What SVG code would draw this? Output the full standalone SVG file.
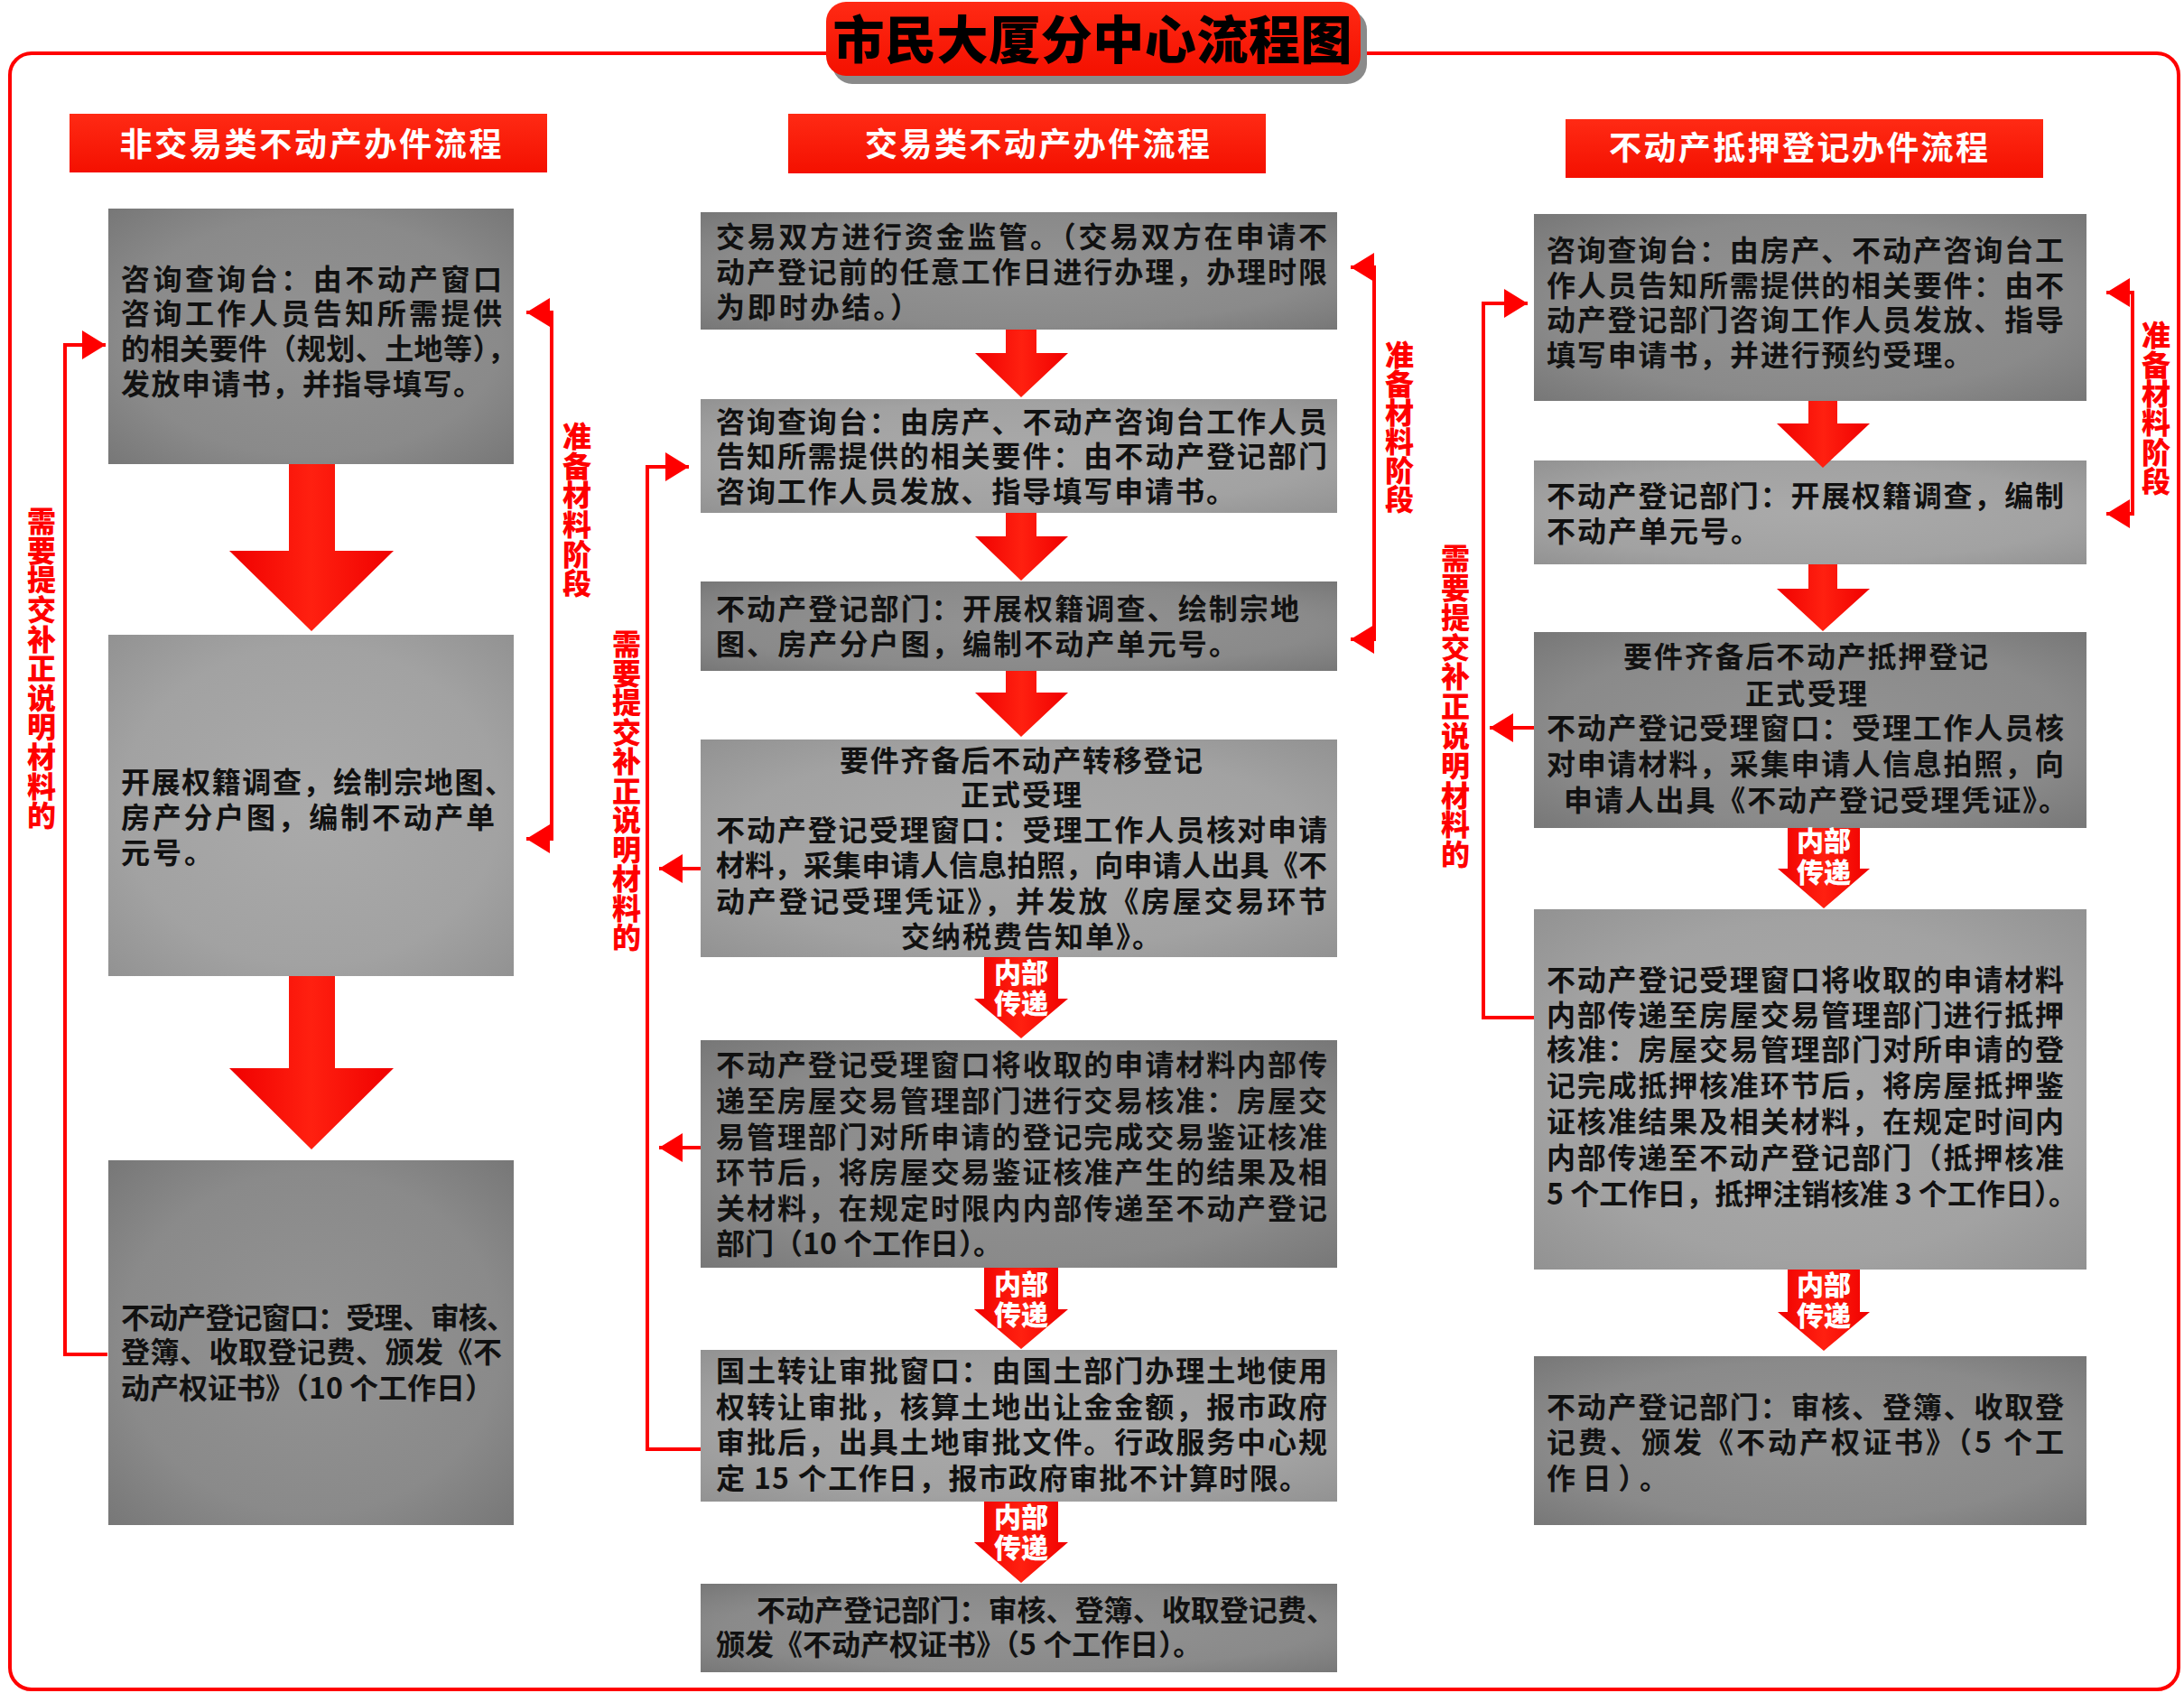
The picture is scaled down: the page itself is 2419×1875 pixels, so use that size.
<svg xmlns="http://www.w3.org/2000/svg" width="2419" height="1875" viewBox="0 0 2419 1875">
<defs>
<style>
.t{font-family:"Noto Sans CJK SC","Noto Sans",sans-serif;font-weight:700;font-size:32px;fill:#111}
.h{font-family:"Noto Sans CJK SC","Noto Sans",sans-serif;font-weight:700;font-size:36px;fill:#fff;text-anchor:middle}
.v{font-family:"Noto Sans CJK SC","Noto Sans",sans-serif;font-weight:900;font-size:32px;fill:#f00;writing-mode:vertical-rl}
.w{font-family:"Noto Sans CJK SC","Noto Sans",sans-serif;font-weight:900;font-size:30px;fill:#fff;text-anchor:middle}
.ln{fill:none;stroke:#f00;stroke-width:4}
.dk{fill:url(#gd)}
.lt{fill:url(#gl)}
.ar{fill:url(#gr)}
.hd{fill:url(#gh)}
</style>
<radialGradient id="gd" cx="50%" cy="50%" r="72%">
<stop offset="0" stop-color="#939393"/><stop offset="0.65" stop-color="#8a8a8a"/><stop offset="1" stop-color="#767676"/>
</radialGradient>
<radialGradient id="gl" cx="50%" cy="50%" r="72%">
<stop offset="0" stop-color="#aaaaaa"/><stop offset="0.65" stop-color="#a2a2a2"/><stop offset="1" stop-color="#919191"/>
</radialGradient>
<linearGradient id="gr" x1="0" y1="0" x2="1" y2="0">
<stop offset="0" stop-color="#f00000"/><stop offset="0.5" stop-color="#ff2010"/><stop offset="1" stop-color="#f00000"/>
</linearGradient>
<linearGradient id="gh" x1="0" y1="0" x2="0" y2="1">
<stop offset="0" stop-color="#ff2a14"/><stop offset="1" stop-color="#f41000"/>
</linearGradient>
<marker id="ah" markerUnits="userSpaceOnUse" markerWidth="28" markerHeight="34" refX="26" refY="16" orient="auto-start-reverse" viewBox="0 0 28 34">
<path d="M0,0 L26,16 L0,32 Z" fill="#f00"/>
</marker>
</defs>

<rect x="11" y="59" width="2402" height="1812" rx="24" fill="none" stroke="#f00" stroke-width="4"/>

<g id="title">
<rect x="922" y="11" width="592" height="82" rx="22" fill="#8a8a8a"/>
<rect x="915" y="2" width="592" height="82" rx="22" fill="url(#gh)"/>
<text x="1210" y="65" textLength="575" style="font-family:'Noto Sans CJK SC','Noto Sans',sans-serif;font-weight:900;font-size:57px;fill:#000;text-anchor:middle">市民大厦分中心流程图</text>
</g>

<g id="header-left">
<rect x="77" y="126" width="529" height="65" class="hd"/>
<text class="h" x="344" y="173" textLength="423">非交易类不动产办件流程</text>
</g>
<g id="header-mid">
<rect x="873" y="126" width="529" height="66" class="hd"/>
<text class="h" x="1149" y="173" textLength="382">交易类不动产办件流程</text>
</g>
<g id="header-right">
<rect x="1734" y="132" width="529" height="65" class="hd"/>
<text class="h" x="1992" y="177" textLength="420">不动产抵押登记办件流程</text>
</g>

<g id="L1">
<rect x="120" y="231" width="449" height="283" class="dk"/>
<text class="t"><tspan x="134" y="321" textLength="422">咨询查询台：由不动产窗口</tspan><tspan x="134" y="359" textLength="422">咨询工作人员告知所需提供</tspan><tspan x="134" y="398" textLength="438">的相关要件（规划、土地等），</tspan><tspan x="134" y="437" textLength="400">发放申请书，并指导填写。</tspan></text>
</g>
<g id="L2">
<rect x="120" y="703" width="449" height="378" class="lt"/>
<text class="t"><tspan x="134" y="878" textLength="435">开展权籍调查，绘制宗地图、</tspan><tspan x="134" y="917" textLength="414">房产分户图，编制不动产单</tspan><tspan x="134" y="956" textLength="102">元号。</tspan></text>
</g>
<g id="L3">
<rect x="120" y="1285" width="449" height="404" class="dk"/>
<text class="t"><tspan x="134" y="1471" textLength="437">不动产登记窗口：受理、审核、</tspan><tspan x="134" y="1509" textLength="422">登簿、收取登记费、颁发《不</tspan><tspan x="134" y="1549">动产权证书》（10 个工作日）</tspan></text>
</g>

<g id="M1">
<rect x="776" y="235" width="705" height="130" class="dk"/>
<text class="t"><tspan x="793" y="274" textLength="677">交易双方进行资金监管。（交易双方在申请不</tspan><tspan x="793" y="313" textLength="677">动产登记前的任意工作日进行办理，办理时限</tspan><tspan x="793" y="352" textLength="225">为即时办结。）</tspan></text>
</g>
<g id="M2">
<rect x="776" y="442" width="705" height="126" class="lt"/>
<text class="t"><tspan x="793" y="479" textLength="677">咨询查询台：由房产、不动产咨询台工作人员</tspan><tspan x="793" y="517" textLength="677">告知所需提供的相关要件：由不动产登记部门</tspan><tspan x="793" y="556" textLength="575">咨询工作人员发放、指导填写申请书。</tspan></text>
</g>
<g id="M3">
<rect x="776" y="644" width="705" height="99" class="dk"/>
<text class="t"><tspan x="793" y="686" textLength="646">不动产登记部门：开展权籍调查、绘制宗地</tspan><tspan x="793" y="725" textLength="578">图、房产分户图，编制不动产单元号。</tspan></text>
</g>
<g id="M4">
<rect x="776" y="819" width="705" height="241" class="lt"/>
<text class="t"><tspan x="930" y="854" textLength="402">要件齐备后不动产转移登记</tspan><tspan x="1064" y="892" textLength="134">正式受理</tspan><tspan x="793" y="931" textLength="677">不动产登记受理窗口：受理工作人员核对申请</tspan><tspan x="793" y="970" textLength="677">材料，采集申请人信息拍照，向申请人出具《不</tspan><tspan x="793" y="1010" textLength="677">动产登记受理凭证》，并发放《房屋交易环节</tspan><tspan x="998" y="1049" textLength="288">交纳税费告知单》。</tspan></text>
</g>
<g id="M5">
<rect x="776" y="1152" width="705" height="252" class="dk"/>
<text class="t"><tspan x="793" y="1191" textLength="677">不动产登记受理窗口将收取的申请材料内部传</tspan><tspan x="793" y="1231" textLength="677">递至房屋交易管理部门进行交易核准：房屋交</tspan><tspan x="793" y="1271" textLength="677">易管理部门对所申请的登记完成交易鉴证核准</tspan><tspan x="793" y="1310" textLength="677">环节后，将房屋交易鉴证核准产生的结果及相</tspan><tspan x="793" y="1350" textLength="677">关材料，在规定时限内内部传递至不动产登记</tspan><tspan x="793" y="1389">部门（10 个工作日）。</tspan></text>
</g>
<g id="M6">
<rect x="776" y="1495" width="705" height="168" class="lt"/>
<text class="t"><tspan x="793" y="1530" textLength="677">国土转让审批窗口：由国土部门办理土地使用</tspan><tspan x="793" y="1570" textLength="677">权转让审批，核算土地出让金金额，报市政府</tspan><tspan x="793" y="1609" textLength="677">审批后，出具土地审批文件。行政服务中心规</tspan><tspan x="793" y="1649" textLength="656">定 15 个工作日，报市政府审批不计算时限。</tspan></text>
</g>
<g id="M7">
<rect x="776" y="1754" width="705" height="98" class="dk"/>
<text class="t"><tspan x="838" y="1795" textLength="641">不动产登记部门：审核、登簿、收取登记费、</tspan><tspan x="793" y="1833">颁发《不动产权证书》（5 个工作日）。</tspan></text>
</g>

<g id="R1">
<rect x="1699" y="237" width="612" height="207" class="dk"/>
<text class="t"><tspan x="1713" y="289" textLength="573">咨询查询台：由房产、不动产咨询台工</tspan><tspan x="1713" y="328" textLength="573">作人员告知所需提供的相关要件：由不</tspan><tspan x="1713" y="366" textLength="573">动产登记部门咨询工作人员发放、指导</tspan><tspan x="1713" y="405" textLength="472">填写申请书，并进行预约受理。</tspan></text>
</g>
<g id="R2">
<rect x="1699" y="510" width="612" height="115" class="lt"/>
<text class="t"><tspan x="1713" y="561" textLength="573">不动产登记部门：开展权籍调查，编制</tspan><tspan x="1713" y="600" textLength="236">不动产单元号。</tspan></text>
</g>
<g id="R3">
<rect x="1699" y="700" width="612" height="217" class="dk"/>
<text class="t"><tspan x="1798" y="739" textLength="404">要件齐备后不动产抵押登记</tspan><tspan x="1933" y="780" textLength="135">正式受理</tspan><tspan x="1713" y="818" textLength="573">不动产登记受理窗口：受理工作人员核</tspan><tspan x="1713" y="858" textLength="573">对申请材料，采集申请人信息拍照，向</tspan><tspan x="1732" y="898" textLength="558">申请人出具《不动产登记受理凭证》。</tspan></text>
</g>
<g id="R4">
<rect x="1699" y="1007" width="612" height="399" class="lt"/>
<text class="t"><tspan x="1713" y="1097" textLength="573">不动产登记受理窗口将收取的申请材料</tspan><tspan x="1713" y="1136" textLength="573">内部传递至房屋交易管理部门进行抵押</tspan><tspan x="1713" y="1174" textLength="573">核准：房屋交易管理部门对所申请的登</tspan><tspan x="1713" y="1214" textLength="573">记完成抵押核准环节后，将房屋抵押鉴</tspan><tspan x="1713" y="1254" textLength="573">证核准结果及相关材料，在规定时间内</tspan><tspan x="1713" y="1294" textLength="573">内部传递至不动产登记部门（抵押核准</tspan><tspan x="1713" y="1334" textLength="588">5 个工作日，抵押注销核准 3 个工作日）。</tspan></text>
</g>
<g id="R5">
<rect x="1699" y="1502" width="612" height="187" class="dk"/>
<text class="t"><tspan x="1713" y="1570" textLength="573">不动产登记部门：审核、登簿、收取登</tspan><tspan x="1713" y="1609" textLength="573">记费、颁发《不动产权证书》（5 个工</tspan><tspan x="1713" y="1649" textLength="135">作日）。</tspan></text>
</g>

<g id="connectors">
<polygon class="ar" points="320,514 371,514 371,610 436,610 345,699 254,610 320,610"/>
<polygon class="ar" points="320,1081 371,1081 371,1183 436,1183 345,1273 254,1183 320,1183"/>
<polygon class="ar" points="1114,365 1148,365 1148,391 1183,391 1131,440 1080,391 1114,391"/>
<polygon class="ar" points="1114,568 1148,568 1148,594 1183,594 1131,643 1080,594 1114,594"/>
<polygon class="ar" points="1114,743 1148,743 1148,767 1183,767 1131,816 1080,767 1114,767"/>
<polygon class="ar" points="2003,444 2035,444 2035,469 2071,469 2019,518 1968,469 2003,469"/>
<polygon class="ar" points="2003,625 2035,625 2035,652 2071,652 2019,699 1968,652 2003,652"/>

<polygon class="ar" points="1090,1060 1172,1060 1172,1106 1183,1106 1131,1150 1079,1106 1090,1106"/>
<polygon class="ar" points="1090,1404 1172,1404 1172,1450 1183,1450 1131,1494 1079,1450 1090,1450"/>
<polygon class="ar" points="1090,1663 1172,1663 1172,1708 1183,1708 1131,1753 1079,1708 1090,1708"/>
<polygon class="ar" points="1980,917 2060,917 2060,962 2071,962 2020,1006 1969,962 1980,962"/>
<polygon class="ar" points="1980,1406 2060,1406 2060,1453 2071,1453 2020,1496 1969,1453 1980,1453"/>
<text class="w"><tspan x="1131" y="1088">内部</tspan><tspan x="1131" y="1122">传递</tspan></text>
<text class="w"><tspan x="1131" y="1433">内部</tspan><tspan x="1131" y="1467">传递</tspan></text>
<text class="w"><tspan x="1131" y="1691">内部</tspan><tspan x="1131" y="1725">传递</tspan></text>
<text class="w"><tspan x="2020" y="942">内部</tspan><tspan x="2020" y="977">传递</tspan></text>
<text class="w"><tspan x="2020" y="1434">内部</tspan><tspan x="2020" y="1468">传递</tspan></text>

<path class="ln" d="M119,1500 H72 V382 H117" marker-end="url(#ah)"/>
<path class="ln" d="M583,346 H611 V929 H583" marker-start="url(#ah)" marker-end="url(#ah)"/>
<path class="ln" d="M776,1605 H717 V517 H763" marker-end="url(#ah)"/>
<path class="ln" d="M776,962 H730" marker-end="url(#ah)"/>
<path class="ln" d="M776,1271 H730" marker-end="url(#ah)"/>
<path class="ln" d="M1496,296 H1522 V708 H1496" marker-start="url(#ah)" marker-end="url(#ah)"/>
<path class="ln" d="M1699,1127 H1643 V336 H1692" marker-end="url(#ah)"/>
<path class="ln" d="M1699,806 H1650" marker-end="url(#ah)"/>
<path class="ln" d="M2333,324 H2362 V569 H2333" marker-start="url(#ah)" marker-end="url(#ah)"/>

<text class="v" x="46" y="561" letter-spacing="0.6">需要提交补正说明材料的</text>
<text class="v" x="639" y="467" letter-spacing="0.6">准备材料阶段</text>
<text class="v" x="694" y="697" letter-spacing="0.5">需要提交补正说明材料的</text>
<text class="v" x="1550" y="377" letter-spacing="0">准备材料阶段</text>
<text class="v" x="1612" y="602" letter-spacing="0.8">需要提交补正说明材料的</text>
<text class="v" x="2388" y="355" letter-spacing="0.4">准备材料阶段</text>
</g>
</svg>
